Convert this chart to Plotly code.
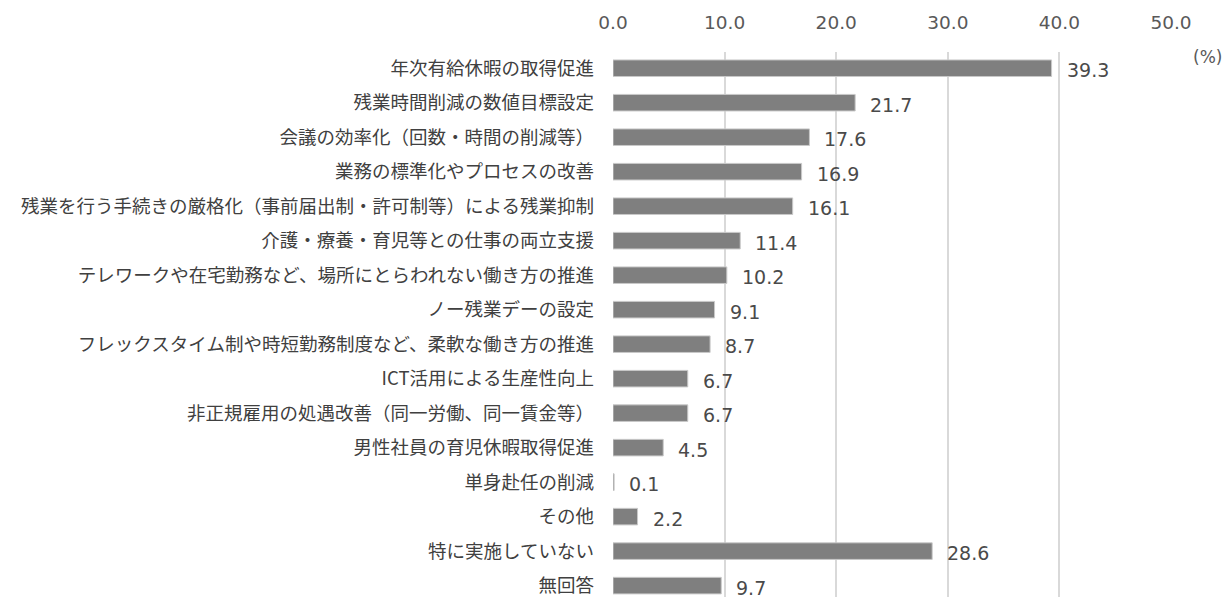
import plotly.graph_objects as go

# 実施している取り組み（複数回答, %）
categories = [
    "年次有給休暇の取得促進",
    "残業時間削減の数値目標設定",
    "会議の効率化（回数・時間の削減等）",
    "業務の標準化やプロセスの改善",
    "残業を行う手続きの厳格化（事前届出制・許可制等）による残業抑制",
    "介護・療養・育児等との仕事の両立支援",
    "テレワークや在宅勤務など、場所にとらわれない働き方の推進",
    "ノー残業デーの設定",
    "フレックスタイム制や時短勤務制度など、柔軟な働き方の推進",
    "ICT活用による生産性向上",
    "非正規雇用の処遇改善（同一労働、同一賃金等）",
    "男性社員の育児休暇取得促進",
    "単身赴任の削減",
    "その他",
    "特に実施していない",
    "無回答",
]
values = [39.3, 21.7, 17.6, 16.9, 16.1, 11.4, 10.2, 9.1, 8.7, 6.7, 6.7, 4.5, 0.1, 2.2, 28.6, 9.7]
x_ticks = [0, 10, 20, 30, 40, 50]
x_tick_labels = ["0.0", "10.0", "20.0", "30.0", "40.0", "50.0"]

NUM_FONT = "DejaVu Sans"
JP_FONT = "Noto Sans CJK JP"

fig = go.Figure(
    go.Bar(
        x=values,
        y=categories,
        orientation="h",
        marker=dict(color="#7f7f7f", line=dict(color="#c9c9c9", width=1)),
        hoverinfo="x+y",
    )
)

# value labels to the right of each bar
for cat, val in zip(categories, values):
    fig.add_annotation(
        x=val, y=cat, xref="x", yref="y",
        text=f"{val:.1f}", showarrow=False,
        xanchor="left", yanchor="middle", xshift=13, yshift=-2,
        font=dict(family=NUM_FONT, size=19, color="#4a4a4a"),
    )

fig.add_annotation(
    x=1.066, y=0.99, xref="paper", yref="paper",
    text="(%)", showarrow=False, xanchor="center", yanchor="middle",
    font=dict(family=NUM_FONT, size=17, color="#595959"),
)

fig.update_layout(
    width=1229, height=597,
    margin=dict(l=613, r=58, t=52, b=0),
    paper_bgcolor="white", plot_bgcolor="white",
    bargap=0.52,
    showlegend=False,
    xaxis=dict(
        side="top", range=[0, 50],
        tickvals=x_ticks, ticktext=x_tick_labels,
        showgrid=True, gridcolor="#d9d9d9", gridwidth=2,
        zeroline=False, showline=False, ticks="",
        ticklabelstandoff=18,
        tickfont=dict(family=NUM_FONT, size=18.5, color="#595959"),
    ),
    yaxis=dict(
        type="category", range=[15.33, -0.47],
        showgrid=False, zeroline=False, showline=False, ticks="",
        ticklabelstandoff=18, automargin=False,
        tickfont=dict(family=JP_FONT, size=18.5, color="#404040"),
    ),
)

fig.write_html("out.html")
